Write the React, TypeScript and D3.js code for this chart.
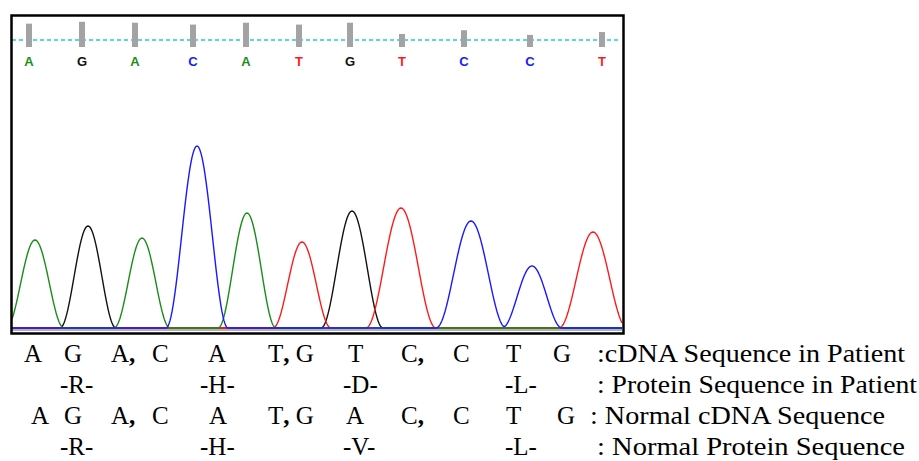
import React from 'react';
import * as d3 from 'd3';

// ---- Data ----
const baseCalls = ['A', 'G', 'A', 'C', 'A', 'T', 'G', 'T', 'C', 'C', 'T'];
const callScans = [17, 70, 123, 181, 234, 287, 338, 390, 452, 518, 590];
const callQuality = [25, 27, 26, 24, 26, 24, 26, 14, 18, 13, 16];

const peakBases = ['A', 'G', 'A', 'C', 'A', 'T', 'G', 'T', 'C', 'C', 'T'];
const peakScans = [23, 76, 130, 185, 235, 290, 340, 389, 459, 520, 581];
const peakHeights = [88, 102, 90, 182, 115, 86, 117, 120, 107, 62, 96];
const peakWidths = [29, 28, 28, 31, 29, 29, 31, 35, 35, 30, 34];

const patientCdna = ['A', 'G', 'A,', 'C', 'A', 'T, G', 'T', 'C,', 'C', 'T', 'G'];
const patientProtein = ['-R-', '-H-', '-D-', '-L-'];
const normalCdna = ['A', 'G', 'A,', 'C', 'A', 'T, G', 'A', 'C,', 'C', 'T', 'G'];
const normalProtein = ['-R-', '-H-', '-V-', '-L-'];
const rowLabels = [
  ':cDNA Sequence in Patient',
  ': Protein Sequence in Patient',
  ': Normal cDNA Sequence',
  ': Normal Protein Sequence',
];

// ---- Layout (positions only) ----
const W = 919;
const H = 461;
const box = { x0: 11.5, y0: 15.5, x1: 623.5, y1: 333.5 };
const baseY = 328;
const cdnaX1 = [24, 64, 111, 152, 208, 268, 348, 401, 453, 506, 553];
const cdnaX2 = [31, 64, 111, 152, 209, 268, 346, 401, 453, 506, 557];
const protX = [60, 200, 343, 505];
const labelX = [597, 597, 590, 597];
const labelLen = [308, 320, 295, 308];
const rowY = [362, 393, 424, 455];

const colors: Record<string, string> = {
  A: '#1a8c1a',
  G: '#111111',
  C: '#1a1aff',
  T: '#ff1a1a',
};

const x = d3.scaleLinear().domain([0, 610]).range([12, 622]);
const y = d3.scaleLinear().domain([0, 200]).range([baseY, baseY - 200]);
const q = d3.scaleLinear().domain([0, 30]).range([0, 28]);

function traceFor(base: string): [number, number][] {
  const pts: [number, number][] = [];
  for (let s = 0; s <= 610; s += 1) {
    let v = 0;
    peakBases.forEach((b, i) => {
      if (b !== base) return;
      const d = s - peakScans[i];
      const w = peakWidths[i];
      if (Math.abs(d) < w) v += (peakHeights[i] * (1 + Math.cos((Math.PI * d) / w))) / 2;
    });
    pts.push([s, v]);
  }
  return pts;
}

const line = d3
  .line<[number, number]>()
  .x((d) => x(d[0]))
  .y((d) => y(d[1]));

function Token({ t, xPos, yPos }: { t: string; xPos: number; yPos: number }) {
  const parts = t.split(/(,)/);
  return (
    <text x={xPos} y={yPos} xmlSpace="preserve" style={{ whiteSpace: 'pre' }}>
      {parts.map((p, i) =>
        p === ',' ? (
          <tspan key={i} fontWeight="bold">
            ,
          </tspan>
        ) : (
          <tspan key={i}>{p}</tspan>
        )
      )}
    </text>
  );
}

export default function App() {
  const order = ['G', 'T', 'A', 'C'];
  const rows: { tokens: string[]; xs: number[] }[] = [
    { tokens: patientCdna, xs: cdnaX1 },
    { tokens: patientProtein, xs: protX },
    { tokens: normalCdna, xs: cdnaX2 },
    { tokens: normalProtein, xs: protX },
  ];
  return (
    <svg
      width={W}
      height={H}
      style={{ position: 'absolute', left: 0, top: 0, background: '#fff' }}
    >
      <rect x={0} y={0} width={W} height={H} fill="#fff" />
      {/* baseline gray line */}
      <line x1={12} x2={622} y1={baseY + 2} y2={baseY + 2} stroke="#666" strokeWidth={1} />
      {/* traces */}
      {order.map((b) => (
        <path key={b} d={line(traceFor(b)) || ''} fill="none" stroke={colors[b]} strokeWidth={1.4} />
      ))}
      {/* dashed reference line */}
      <line
        x1={12}
        x2={620}
        y1={40}
        y2={40}
        stroke="#1fd0d0"
        strokeWidth={1.5}
        strokeDasharray="4,3"
      />
      {/* quality bars */}
      {callScans.map((s, i) => (
        <rect
          key={i}
          x={x(s) - 3}
          y={47 - q(callQuality[i])}
          width={6}
          height={q(callQuality[i])}
          fill="#a3a3a6"
        />
      ))}
      {/* base letters */}
      {callScans.map((s, i) => (
        <text
          key={i}
          x={x(s)}
          y={66}
          textAnchor="middle"
          fontFamily="'Liberation Sans', Arial, sans-serif"
          fontSize={13}
          fontWeight="bold"
          fill={colors[baseCalls[i]]}
        >
          {baseCalls[i]}
        </text>
      ))}
      {/* frame */}
      <rect
        x={box.x0}
        y={box.y0}
        width={box.x1 - box.x0}
        height={box.y1 - box.y0}
        fill="none"
        stroke="#000"
        strokeWidth={2.5}
      />
      {/* sequence rows */}
      <g fontFamily="'Liberation Serif', 'Times New Roman', serif" fontSize={25} fill="#000">
        {rows.map((r, ri) => (
          <g key={ri}>
            {r.tokens.map((t, ti) => (
              <Token key={ti} t={t} xPos={r.xs[ti]} yPos={rowY[ri]} />
            ))}
            <text
              x={labelX[ri]}
              y={rowY[ri]}
              textLength={labelLen[ri]}
              lengthAdjust="spacingAndGlyphs"
            >
              {rowLabels[ri]}
            </text>
          </g>
        ))}
      </g>
    </svg>
  );
}
